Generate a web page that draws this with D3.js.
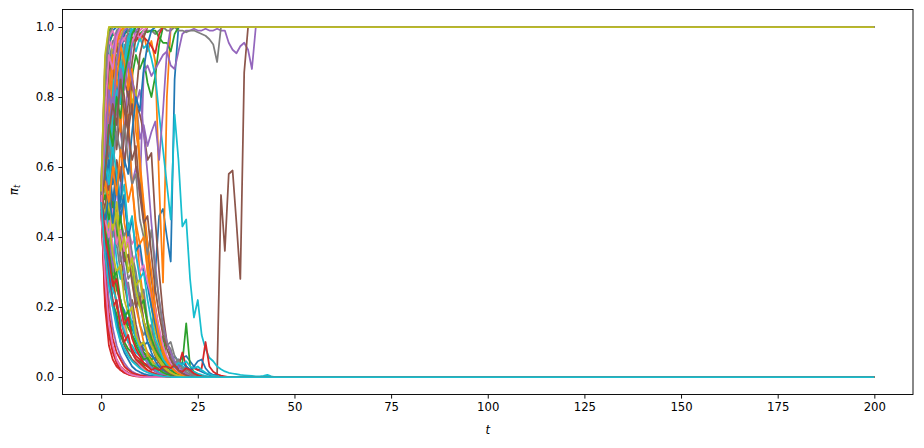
<!DOCTYPE html>
<html><head><meta charset="utf-8">
<script src="https://cdn.jsdelivr.net/npm/d3@7"></script>
<style>body{margin:0;background:#fff}svg{display:block}text{font-family:"DejaVu Sans",sans-serif}</style>
</head><body>
<svg id="chart" width="924" height="448"></svg>
<script>
// ---- data: pi_t for each simulated path, t = 0,1,2,...
// after its last listed value a path stays at that absorbing value up to T_END
const T_END = 200;
const xTicks = [0, 25, 50, 75, 100, 125, 150, 175, 200];
const yTicks = [0.0, 0.2, 0.4, 0.6, 0.8, 1.0];

const p00 = [0.52,0.42,0.36,0.30,0.26,0.21,0.19,0.15,0.14,0.11,0.10,0.09,0.10,0.08,0.30,0.46,0.48,0.40,0.33,0.85,1];
const p01 = [0.50,0.62,0.75,0.70,0.80,0.88,0.93,0.90,0.95,0.97,0.96,0.98,0.93,0.96,0.90,0.55,0.27,0.80,1];
const p02 = [0.55,0.70,0.85,0.80,0.90,0.88,0.93,0.90,0.86,0.92,0.88,0.91,0.84,0.80,0.86,0.95,1];
const p03 = [0.50,0.20,0.09,0.05,0.03,0.02,0.012,0.008,0.005,0.003,0.002,0.001,0];
const p04 = [0.48,0.60,0.72,0.65,0.78,0.70,0.62,0.70,0.55,0.60,0.52,0.87,0.89,0.86,0.88,0.90,0.92,0.93,0.89,0.88,0.93,0.98,0.99,0.99,0.995,0.99,0.99,0.995,0.99,0.99,0.995,0.99,0.99,0.955,0.935,0.925,0.945,0.955,0.935,0.88,1];
const p05 = [0.50,0.38,0.30,0.22,0.16,0.12,0.09,0.07,0.05,0.04,0.03,0.022,0.016,0.012,0.009,0.007,0.005,0.004,0.003,0.002,0.002,0.001,0.001,0.001,0.001,0.001,0.001,0.001,0.001,0.002,0.01,0.52,0.36,0.58,0.59,0.44,0.28,0.87,1];
const p06 = [0.50,0.55,0.48,0.60,0.52,0.45,0.50,0.42,0.38,0.40,0.35,0.30,0.28,0.25,0.17,0.10,0.06,0.035,0.02,0.012,0.007,0.004,0.002,0.001,0];
const p07 = [0.50,0.75,0.90,0.96,0.93,0.97,0.98,0.96,0.98,0.99,0.97,0.98,0.99,0.99,0.98,0.99,1.0,0.99,0.99,1.0,0.99,0.99,0.985,0.99,0.99,0.985,0.98,0.975,0.965,0.95,0.90,1];
const p08 = [0.52,0.90,1];
const p09 = [0.50,0.68,0.85,0.80,0.92,0.88,0.95,0.90,0.96,0.93,0.97,0.94,0.95,0.91,0.86,0.75,0.65,0.55,0.45,0.75,0.62,0.43,0.45,0.28,0.17,0.22,0.12,0.08,0.055,0.045,0.03,0.022,0.016,0.012,0.01,0.008,0.006,0.005,0.004,0.003,0.002,0.002,0.003,0.006,0.002,0];
const p10 = [0.48,0.40,0.33,0.35,0.26,0.22,0.18,0.15,0.16,0.12,0.10,0.08,0.07,0.06,0.05,0.045,0.05,0.04,0.035,0.06,0.045,0.055,0.06,0.045,0.03,0.02,0.015,0.01,0.006,0.003,0.001,0];
const p11 = [0.50,0.72,0.85,0.92,0.80,0.88,0.70,0.75,0.55,0.42,0.30,0.22,0.15,0.10,0.07,0.05,0.03,0.02,0.012,0.008,0.005,0.003,0.001,0];
const p12 = [0.53,0.80,0.95,0.98,0.97,0.99,0.98,0.99,0.985,0.99,0.98,0.99,0.985,0.99,0.99,0.97,0.955,0.955,0.93,0.98,1];
const p13 = [0.50,0.70,0.88,0.93,0.95,0.97,0.96,0.98,0.97,0.96,0.98,0.97,0.96,0.945,0.925,0.98,1];
const p14 = [0.50,0.65,0.80,0.72,0.85,0.78,0.90,0.83,0.75,0.80,0.68,0.72,0.66,0.70,0.73,0.62,0.76,0.93,1];
const p15 = [0.53,0.62,0.55,0.42,0.48,0.35,0.27,0.20,0.22,0.15,0.10,0.07,0.05,0.03,0.02,0.013,0.008,0.005,0.003,0.002,0];
const p16 = [0.55,0.90,0.98,0.93,0.97,0.95,0.98,0.96,0.99,0.97,0.99,1];
const p17 = [0.50,0.40,0.45,0.35,0.38,0.30,0.25,0.27,0.20,0.22,0.15,0.12,0.14,0.09,0.10,0.07,0.11,0.095,0.08,0.04,0.05,0.03,0.02,0.015,0.01,0.006,0.003,0.001,0];
const p18 = [0.50,0.42,0.28,0.31,0.20,0.15,0.17,0.10,0.07,0.05,0.035,0.025,0.015,0.01,0.006,0.004,0.002,0.001,0];
const p19 = [0.55,0.85,0.99,1];
const p20 = [0.50,0.75,0.95,0.99,1];
const p21 = [0.51,0.68,0.75,0.62,0.55,0.60,0.44,0.38,0.28,0.20,0.15,0.10,0.07,0.05,0.035,0.045,0.03,0.05,0.025,0.03,0.015,0.01,0.006,0.003,0];
const p22 = [0.49,0.36,0.30,0.21,0.18,0.12,0.10,0.08,0.07,0.05,0.045,0.035,0.03,0.025,0.02,0.02,0.018,0.015,0.02,0.025,0.03,0.04,0.153,0.03,0.015,0.008,0.004,0.002,0];
const p23 = [0.52,0.45,0.35,0.28,0.20,0.17,0.12,0.10,0.08,0.06,0.05,0.04,0.035,0.03,0.025,0.03,0.02,0.025,0.03,0.02,0.03,0.07,0.03,0.02,0.025,0.02,0.025,0.10,0.03,0.015,0.008,0.004,0.002,0];
const p24 = [0.52,0.33,0.22,0.14,0.09,0.06,0.04,0.025,0.016,0.01,0.006,0.004,0.002,0.001,0];
const p25 = [0.50,0.70,0.60,0.80,0.65,0.75,0.60,0.72,0.85,0.80,0.92,0.97,1];
const p26 = [0.48,0.58,0.45,0.38,0.26,0.20,0.14,0.10,0.07,0.05,0.035,0.02,0.014,0.01,0.006,0.004,0.002,0];
const p27 = [0.48,0.62,0.83,0.95,0.99,1];
const p28 = [0.49,0.60,0.82,0.95,0.90,0.96,0.85,0.90,0.78,0.82,0.60,0.45,0.30,0.20,0.13,0.09,0.06,0.04,0.025,0.015,0.01,0.006,0.003,0.001,0];
const p29 = [0.50,0.38,0.32,0.25,0.22,0.16,0.13,0.10,0.09,0.07,0.06,0.05,0.045,0.04,0.035,0.03,0.03,0.035,0.03,0.04,0.044,0.03,0.025,0.02,0.015,0.01,0.006,0.003,0.001,0];
const p30 = [0.55,0.40,0.30,0.21,0.16,0.10,0.07,0.05,0.03,0.02,0.014,0.009,0.006,0.004,0.002,0.001,0];
const p31 = [0.50,0.60,0.50,0.65,0.80,0.70,0.90,0.95,0.99,1];
const p32 = [0.50,0.45,0.38,0.33,0.25,0.22,0.17,0.14,0.12,0.10,0.08,0.07,0.06,0.05,0.055,0.05,0.117,0.05,0.03,0.02,0.012,0.007,0.004,0.002,0];
const p33 = [0.47,0.25,0.13,0.08,0.05,0.03,0.02,0.012,0.008,0.005,0.003,0.002,0.001,0];
const p34 = [0.47,0.35,0.42,0.30,0.45,0.55,0.70,0.85,0.95,0.99,1];
const p35 = [0.50,0.62,0.75,0.70,0.82,0.78,0.85,0.80,0.83,0.78,0.75,0.70,0.62,0.64,0.45,0.30,0.18,0.10,0.06,0.035,0.02,0.012,0.007,0.004,0.002,0];
const p36 = [0.50,0.85,0.97,0.99,0.96,0.98,1];
const p37 = [0.51,0.45,0.52,0.40,0.44,0.33,0.36,0.28,0.30,0.22,0.24,0.16,0.13,0.15,0.09,0.07,0.05,0.03,0.02,0.012,0.007,0.004,0.002,0];
const p38 = [0.50,0.45,0.60,0.78,0.90,0.97,1];
const p39 = [0.52,0.55,0.40,0.46,0.33,0.28,0.31,0.20,0.15,0.11,0.08,0.06,0.04,0.028,0.02,0.013,0.008,0.005,0.003,0.002,0];
const p40 = [0.48,0.55,0.70,0.62,0.80,0.92,0.98,1];
const p41 = [0.55,0.70,0.62,0.78,0.85,0.80,0.92,0.88,0.75,0.80,0.60,0.48,0.35,0.22,0.15,0.10,0.065,0.04,0.025,0.015,0.009,0.005,0.003,0.001,0];
const p42 = [0.52,0.88,0.99,1];
const p43 = [0.49,0.22,0.12,0.07,0.04,0.02,0.012,0.007,0.004,0.002,0.001,0];
const p44 = [0.50,0.60,0.52,0.45,0.38,0.42,0.30,0.25,0.18,0.13,0.09,0.06,0.04,0.025,0.015,0.01,0.006,0.003,0.001,0];
const p45 = [0.50,0.75,0.90,0.85,0.95,0.88,0.80,0.70,0.78,0.60,0.55,0.45,0.38,0.28,0.20,0.12,0.08,0.05,0.03,0.018,0.01,0.006,0.003,0.001,0];
const p46 = [0.55,0.88,0.96,0.94,0.98,0.95,0.97,0.93,0.96,0.98,0.97,0.99,1];
const p47 = [0.50,0.62,0.55,0.72,0.68,0.85,0.93,0.99,1];
const p48 = [0.50,0.40,0.44,0.35,0.30,0.32,0.22,0.18,0.20,0.12,0.09,0.10,0.06,0.045,0.03,0.02,0.013,0.008,0.005,0.003,0.001,0];
const p49 = [0.52,0.70,0.65,0.85,0.75,0.90,0.86,0.95,0.99,1];
const p50 = [0.50,0.58,0.65,0.55,0.60,0.48,0.52,0.40,0.35,0.27,0.22,0.15,0.10,0.07,0.045,0.03,0.02,0.012,0.008,0.005,0.003,0.001,0];
const p51 = [0.50,0.80,0.72,0.88,0.95,0.99,1];
const p52 = [0.50,0.42,0.36,0.28,0.30,0.22,0.17,0.19,0.12,0.09,0.07,0.05,0.055,0.035,0.03,0.02,0.013,0.008,0.005,0.003,0.001,0];
const p53 = [0.53,0.30,0.18,0.11,0.07,0.05,0.03,0.02,0.012,0.008,0.005,0.003,0.001,0];
const p54 = [0.48,0.62,0.80,0.92,0.98,1];
const p55 = [0.50,0.42,0.55,0.48,0.62,0.56,0.70,0.78,0.90,0.97,1];
const p56 = [0.48,0.28,0.15,0.09,0.05,0.03,0.018,0.01,0.006,0.003,0.001,0];
const p57 = [0.52,0.64,0.58,0.50,0.56,0.45,0.40,0.44,0.35,0.30,0.22,0.25,0.16,0.12,0.08,0.06,0.04,0.045,0.06,0.035,0.05,0.02,0.03,0.012,0.006,0.003,0];
const p58 = [0.49,0.55,0.48,0.42,0.50,0.40,0.36,0.38,0.30,0.26,0.28,0.20,0.16,0.12,0.08,0.055,0.035,0.022,0.013,0.008,0.004,0.002,0];
const p59 = [0.51,0.66,0.58,0.75,0.82,0.78,0.90,0.97,1];
const p60 = [0.50,0.55,0.62,0.50,0.58,0.45,0.52,0.40,0.45,0.36,0.38,0.30,0.26,0.20,0.15,0.10,0.07,0.05,0.035,0.03,0.025,0.04,0.03,0.02,0.03,0.045,0.05,0.025,0.012,0.006,0.003,0];
const p61 = [0.52,0.68,0.80,0.92,0.85,0.95,0.90,0.82,0.88,0.70,0.62,0.50,0.38,0.30,0.20,0.13,0.08,0.05,0.03,0.018,0.01,0.005,0.002,0];
const p62 = [0.48,0.52,0.45,0.50,0.40,0.46,0.35,0.30,0.33,0.25,0.20,0.22,0.15,0.11,0.08,0.06,0.045,0.03,0.02,0.012,0.007,0.004,0.002,0];
const p63 = [0.50,0.35,0.28,0.20,0.22,0.14,0.10,0.12,0.07,0.05,0.04,0.03,0.02,0.014,0.009,0.005,0.003,0.001,0];
const p64 = [0.50,0.60,0.72,0.80,0.75,0.88,0.82,0.90,0.85,0.78,0.82,0.70,0.58,0.44,0.32,0.22,0.15,0.10,0.07,0.045,0.03,0.018,0.01,0.005,0.002,0];
const p65 = [0.53,0.48,0.56,0.45,0.38,0.42,0.33,0.35,0.27,0.20,0.23,0.16,0.12,0.09,0.06,0.04,0.025,0.015,0.009,0.005,0.002,0];
const p66 = [0.50,0.45,0.40,0.48,0.38,0.42,0.36,0.40,0.32,0.35,0.30,0.32,0.27,0.23,0.19,0.14,0.09,0.06,0.04,0.025,0.015,0.008,0.004,0.002,0];
const p67 = [0.49,0.58,0.66,0.60,0.70,0.64,0.72,0.62,0.55,0.58,0.45,0.40,0.35,0.42,0.30,0.22,0.14,0.09,0.10,0.06,0.04,0.025,0.015,0.008,0.004,0.002,0];
const p68 = [0.51,0.46,0.53,0.42,0.47,0.36,0.40,0.30,0.34,0.25,0.20,0.16,0.12,0.09,0.065,0.045,0.03,0.02,0.012,0.007,0.004,0.002,0];
const p69 = [0.50,0.62,0.55,0.66,0.58,0.50,0.55,0.42,0.46,0.35,0.28,0.30,0.22,0.16,0.11,0.08,0.05,0.035,0.022,0.03,0.04,0.035,0.045,0.03,0.025,0.03,0.02,0.012,0.008,0.004,0.002,0];
const p70 = [0.50,0.45,0.52,0.44,0.55,0.50,0.62,0.58,0.70,0.80,0.76,0.88,0.95,0.99,1];
const p71 = [0.48,0.56,0.50,0.60,0.52,0.65,0.58,0.50,0.55,0.44,0.38,0.40,0.30,0.24,0.17,0.11,0.07,0.045,0.03,0.018,0.01,0.005,0.002,0];
const p72 = [0.50,0.58,0.72,0.66,0.80,0.74,0.86,0.92,0.98,1];
const p73 = [0.52,0.40,0.34,0.26,0.28,0.20,0.15,0.17,0.11,0.08,0.06,0.04,0.03,0.02,0.025,0.02,0.03,0.03,0.025,0.035,0.02,0.015,0.025,0.02,0.01,0.005,0.002,0];
const p74 = [0.50,0.68,0.82,0.75,0.90,0.96,0.99,1];
const p75 = [0.50,0.58,0.70,0.78,0.72,0.85,0.76,0.70,0.62,0.66,0.52,0.44,0.46,0.35,0.25,0.18,0.12,0.08,0.05,0.03,0.018,0.01,0.005,0.002,0];
const p76 = [0.48,0.75,0.92,0.88,0.97,1];
const p77 = [0.52,0.85,0.98,1];
const p78 = [0.53,0.92,1];
const p79 = [0.50,0.35,0.26,0.20,0.14,0.10,0.08,0.06,0.045,0.035,0.025,0.018,0.013,0.009,0.006,0.004,0.002,0.001,0];

const paths = [p00,p01,p02,p03,p04,p05,p06,p07,p08,p09,p10,p11,p12,p13,p14,p15,p16,p17,p18,p19,
  p20,p21,p22,p23,p24,p25,p26,p27,p28,p29,p30,p31,p32,p33,p34,p35,p36,p37,p38,p39,
  p40,p41,p42,p43,p44,p45,p46,p47,p48,p49,p50,p51,p52,p53,p54,p55,p56,p57,p58,p59,
  p60,p61,p62,p63,p64,p65,p66,p67,p68,p69,p70,p71,p72,p73,p74,p75,p76,p77,p78,p79];

// ---- drawing
const svg = d3.select("#chart");
const L = 62.5, R = 913, T = 9.5, B = 394.5;
const fs = 11.7;
const x = d3.scaleLinear().domain([-10, 210]).range([L, R]);
const y = d3.scaleLinear().domain([-0.05, 1.05]).range([B, T]);
const colors = d3.schemeCategory10;

svg.append("rect").attr("width", 924).attr("height", 448).attr("fill", "#fff");
svg.append("clipPath").attr("id", "clip").append("rect")
  .attr("x", L).attr("y", T).attr("width", R - L).attr("height", B - T);

const line = d3.line().x(d => x(d[0])).y(d => y(d[1]));
const gLines = svg.append("g").attr("clip-path", "url(#clip)");
paths.forEach((vals, i) => {
  const pts = vals.map((v, t) => [t, v]);
  pts.push([T_END, vals[vals.length - 1]]);
  gLines.append("path").attr("d", line(pts))
    .attr("fill", "none").attr("stroke", colors[i % 10])
    .attr("stroke-width", 1.75).attr("stroke-linejoin", "round");
});

const gx = svg.append("g").attr("transform", `translate(0,${B})`)
  .call(d3.axisBottom(x).tickValues(xTicks).tickSize(4.1).tickPadding(4.1).tickFormat(d3.format("d")));
const gy = svg.append("g").attr("transform", `translate(${L},0)`)
  .call(d3.axisLeft(y).tickValues(yTicks).tickSize(4.1).tickPadding(4.1).tickFormat(d3.format(".1f")));
[gx, gy].forEach(g => {
  g.select(".domain").remove();
  g.selectAll(".tick line").attr("stroke", "#000").attr("stroke-width", 0.93);
  g.selectAll(".tick text").attr("fill", "#000").style("font-size", fs + "px").style("font-family", "DejaVu Sans");
});

svg.append("rect").attr("x", L).attr("y", T).attr("width", R - L).attr("height", B - T)
  .attr("fill", "none").attr("stroke", "#000").attr("stroke-width", 0.93);

svg.append("text").attr("x", (L + R) / 2).attr("y", 434).attr("text-anchor", "middle")
  .style("font-size", fs + "px").style("font-style", "italic").text("t");

const yl = svg.append("text").attr("transform", "translate(17.5,190) rotate(-90)")
  .attr("text-anchor", "middle").style("font-size", fs + "px");
yl.append("tspan").style("font-style", "italic").text("π");
yl.append("tspan").style("font-style", "italic").style("font-size", (fs * 0.7) + "px")
  .attr("dy", 2.5).text("t");
</script>
</body></html>
